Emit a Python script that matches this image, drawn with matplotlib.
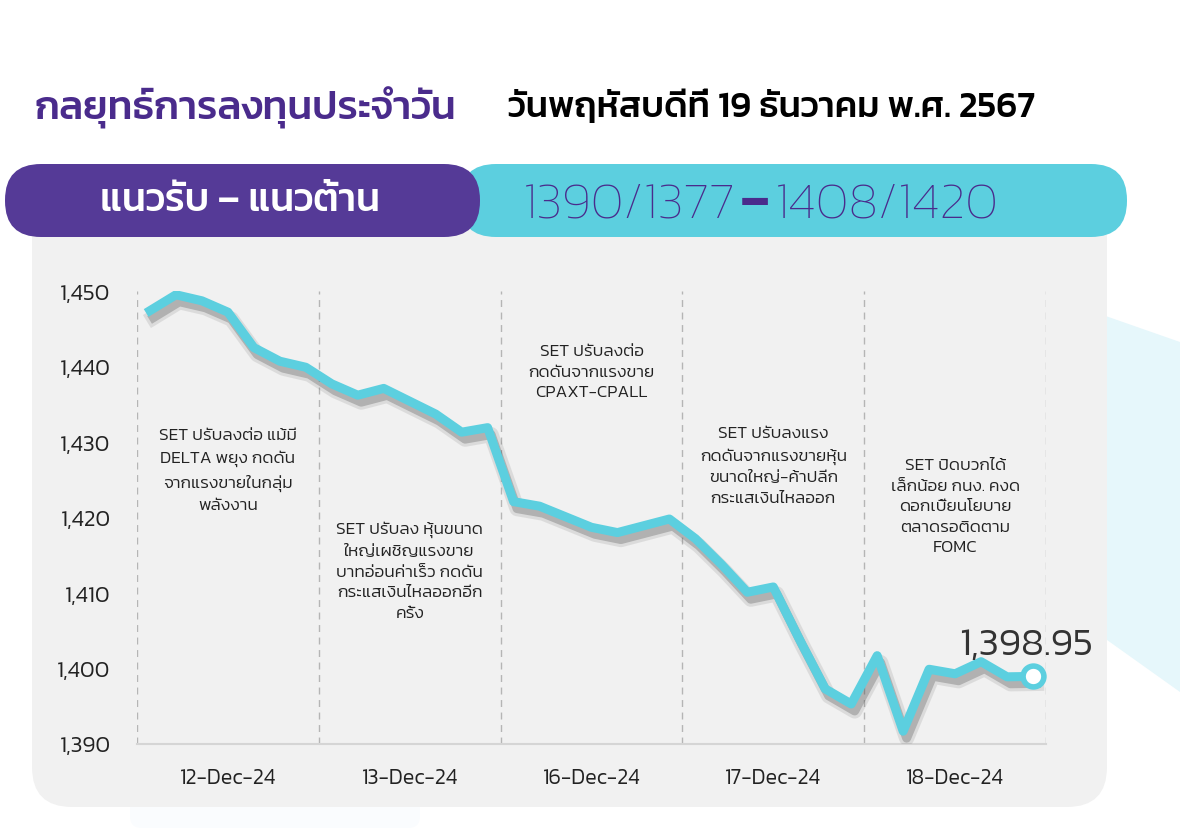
import matplotlib
matplotlib.use("Agg")
import matplotlib.pyplot as plt
from matplotlib.patches import FancyBboxPatch, Polygon
import matplotlib.patheffects as pe

# SET index, 7 readings per trading day
days = ["12-Dec-24", "13-Dec-24", "16-Dec-24", "17-Dec-24", "18-Dec-24"]
set_index = [
    1447.4, 1449.5, 1448.7, 1447.2, 1442.5, 1440.7, 1439.9,
    1437.7, 1436.2, 1437.1, 1435.4, 1433.7, 1431.3, 1431.9,
    1422.1, 1421.5, 1420.1, 1418.7, 1418.0, 1418.9, 1419.8,
    1417.2, 1413.8, 1410.1, 1410.8, 1403.9, 1397.3, 1395.3,
    1401.7, 1391.7, 1399.9, 1399.3, 1400.9, 1398.9, 1398.95,
]
per_day = 7
y_ticks = [1390, 1400, 1410, 1420, 1430, 1440, 1450]
notes = [
    "SET ปรับลงต่อ แม้มี\nDELTA พยุง กดดัน\nจากแรงขายในกลุ่ม\nพลังงาน",
    "SET ปรับลง หุ้นขนาด\nใหญ่เผชิญแรงขาย\nบาทอ่อนค่าเร็ว กดดัน\nกระแสเงินไหลออกอีก\nครั้ง",
    "SET ปรับลงต่อ\nกดดันจากแรงขาย\nCPAXT-CPALL",
    "SET ปรับลงแรง\nกดดันจากแรงขายหุ้น\nขนาดใหญ่-ค้าปลีก\nกระแสเงินไหลออก",
    "SET ปิดบวกได้\nเล็กน้อย กนง. คงด\nดอกเบี้ยนโยบาย\nตลาดรอติดตาม\nFOMC",
]
note_y = [1426.3, 1413.0, 1439.3, 1426.9, 1421.5]
title = "กลยุทธ์การลงทุนประจำวัน"
date_text = "วันพฤหัสบดีที่ 19 ธันวาคม พ.ศ. 2567"
band_label = "แนวรับ – แนวต้าน"
support = "1390/1377"
resist = "1408/1420"
last_label = "1,398.95"

PURPLE = "#553a97"
CYAN = "#5ccfdf"
FONT = ["Kanit", "DejaVu Sans"]

W, H = 1180, 829
fig = plt.figure(figsize=(W / 100, H / 100), dpi=100)

# background layer in pixel units
bg = fig.add_axes([0, 0, 1, 1])
bg.set_xlim(0, W)
bg.set_ylim(H, 0)
bg.axis("off")

bg.add_patch(Polygon([(1100, 315), (1180, 343), (1180, 693), (1100, 636)],
                     closed=True, fc="#e6f7fb", ec="none", zorder=0))
bg.add_patch(FancyBboxPatch((130, 780), 290, 49, boxstyle="round,pad=0,rounding_size=12",
                            fc="#fafcfe", ec="none", zorder=0))
bg.add_patch(FancyBboxPatch((32, 200), 1075, 608, boxstyle="round,pad=0,rounding_size=40",
                            fc="#f1f1f1", ec="none", zorder=1))
bg.add_patch(FancyBboxPatch((460, 165), 667, 73, boxstyle="round,pad=0,rounding_size=36",
                            fc=CYAN, ec="none", zorder=2))
bg.add_patch(FancyBboxPatch((5, 165), 475, 73, boxstyle="round,pad=0,rounding_size=36",
                            fc=PURPLE, ec="none", zorder=3))

bg.text(35, 108, title, family=FONT, fontsize=29, fontweight=500, color="#4a2b8c",
        va="center", ha="left")
bg.text(508, 108, date_text, family=FONT, fontsize=26, fontweight=500, color="black",
        va="center", ha="left")
bg.text(240, 202, band_label, family=FONT, fontsize=28, fontweight=500, color="white",
        va="center", ha="center", zorder=4)
bg.text(735, 205, support, family=FONT, fontsize=37.5, fontweight=250, color="#4a2b8c",
        va="center", ha="right", zorder=4)
bg.text(755, 205, "–", family=FONT, fontsize=37, fontweight=700, color="#4a2b8c",
        va="center", ha="center", zorder=4)
bg.text(775, 205, resist, family=FONT, fontsize=37.5, fontweight=250, color="#4a2b8c",
        va="center", ha="left", zorder=4)

# chart
ax = fig.add_axes([137 / W, (H - 745) / H, (1046 - 137) / W, (745 - 292) / H])
ax.patch.set_alpha(0)
n = len(set_index)
xs = [i + 0.5 for i in range(n)]
ax.plot(xs, set_index, color=CYAN, lw=6.5, solid_joinstyle="round", zorder=3,
        path_effects=[pe.SimpleLineShadow(offset=(2.5, -5), shadow_color="#444444", alpha=0.12, linewidth=11),
                      pe.SimpleLineShadow(offset=(2.5, -5), shadow_color="#444444", alpha=0.28, linewidth=6.5),
                      pe.Normal()])
ax.plot(xs[-1], set_index[-1], "o", ms=15, mfc="white", mec=CYAN, mew=4, zorder=4)
ax.text(xs[-1] + 2.3, set_index[-1] + 4.1, last_label, family=FONT, fontsize=28, fontweight=300,
        color="#333333", ha="right", va="center")

for d in range(len(days) + 1):
    ax.axvline(d * per_day, color="#b5b5b5", lw=1, ls=(0, (5, 4)), zorder=1)

for d, note in enumerate(notes):
    ax.text(d * per_day + per_day / 2, note_y[d], note, family=FONT, fontsize=12.5, fontweight=300,
            color="#222222", ha="center", va="center", linespacing=1.6, zorder=2)

ax.set_xlim(0, n)
ax.set_ylim(1390, 1450)
ax.set_yticks(y_ticks)
ax.set_yticklabels([f"{v:,}" for v in y_ticks], family=FONT, fontsize=16.5, fontweight=300,
                   color="#222222")
ax.set_xticks([d * per_day + per_day / 2 for d in range(len(days))])
ax.set_xticklabels(days, family=FONT, fontsize=15.5, fontweight=300, color="#222222")
ax.tick_params(length=0)
ax.tick_params(axis="y", pad=19)
ax.tick_params(axis="x", pad=17)
for s in ["top", "right", "left"]:
    ax.spines[s].set_visible(False)
ax.spines["bottom"].set_color("#d5d5d5")
ax.spines["bottom"].set_linewidth(1.5)

fig.savefig("out.png", dpi=100)
